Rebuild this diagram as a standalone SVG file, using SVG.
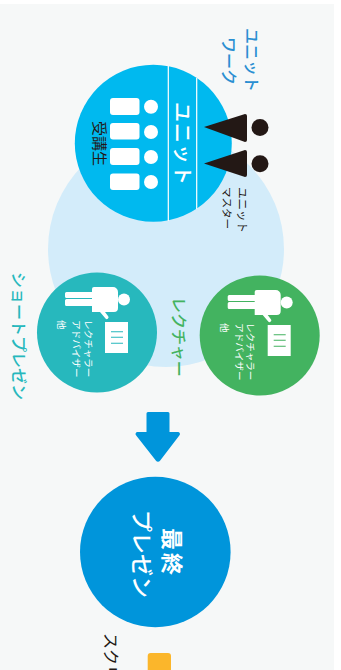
<svg xmlns="http://www.w3.org/2000/svg" width="341" height="670" viewBox="0 0 341 670">
<style>
text{font-family:"Noto Sans CJK JP","Noto Sans",sans-serif}
.w{fill:#fff}
.k{fill:#231815}
.h{font-size:16px;font-weight:500}
.s{font-size:9.6px;fill:#fff}
</style>
<rect width="341" height="670" fill="#fff"/>
<rect x="0" y="4" width="334" height="666" fill="#f6f8f8"/>
<g id="connectors">
<path d="M146.5 413.5a1.5 1.5 0 0 1 1.5-1.500h20a1.500 1.500 0 0 1 1.500 1.500V432h8.500a2 2 0 0 1 1.500 3.300L160 460.800a2.500 2.500 0 0 1-4 0L136 435.300a2 2 0 0 1 1.500-3.300H146.500z" fill="#0095db"/>
</g>
<g id="program-area"><circle cx="166" cy="249" r="118" fill="#d3ecfa"/></g>
<g id="unit-work">
<circle cx="153.300" cy="143.300" r="78.500" fill="#00b9ef"/>
<path d="M168.300 66v155M196.700 78v131" stroke="#fff" stroke-width="1.200" fill="none"/>
<text class="w" transform="translate(175,102) rotate(90)" font-size="20" font-weight="500" letter-spacing="1">ユニット</text>
<g class="w">
<circle cx="151" cy="106.700" r="7"/><circle cx="151" cy="132" r="7"/><circle cx="151" cy="157" r="7"/><circle cx="151" cy="182" r="7"/>
<rect x="110" y="98" width="29.500" height="17" rx="3"/><rect x="110" y="123" width="29.500" height="16.500" rx="3"/><rect x="110" y="148" width="29.500" height="17" rx="3"/><rect x="110" y="173.500" width="29.500" height="16.500" rx="3"/>
</g>
<text class="k" transform="translate(93.500,121) rotate(90)" font-size="15">受講生</text>
</g>
<g id="unit-master" class="k">
<path d="M204 127L245 114a2 2 0 0 1 2 2V140a2 2 0 0 1-2 2z"/>
<path d="M204 163.500L245 150a2 2 0 0 1 2 2V175a2 2 0 0 1-2 2z"/>
<circle cx="260" cy="127.500" r="8.500"/><circle cx="260" cy="163.800" r="8.500"/>
<text transform="translate(238,187) rotate(90)" font-size="11.500">ユニット</text>
<text transform="translate(223,187) rotate(90)" font-size="10.500">マスター</text>
</g>
<g id="unit-work-label" fill="#2a8fd2" class="h">
<text class="h" transform="translate(246,28) rotate(90)">ユニット</text>
<text class="h" transform="translate(223,37) rotate(90)">ワーク</text>
</g>
<g id="short-presentation">
<circle cx="97" cy="332.500" r="60" fill="#27b8bd"/>
<g class="w"><circle cx="124" cy="299.500" r="6"/>
<path d="M65 293.500a1.500 1.500 0 0 1 1.500-1.500H92V289a2 2 0 0 1 2-2H113a5 5 0 0 1 5 5V308a4 4 0 0 1-4 4H105L108 316a1.500 1.500 0 0 1-2.500 2.500L100 312H92V306H66.500a1.500 1.500 0 0 1-1.500-1.500V300.500a1.500 1.500 0 0 1 1.500-1.500H92V298H66.500a1.500 1.500 0 0 1-1.500-1.500z"/>
<rect x="105" y="322" width="23" height="31"/></g>
<path d="M111 331.700H123M111 337.300H123M111 343.300H123" stroke="#27b8bd" stroke-width="1.100"/>
<text class="s" transform="translate(84.500,320) rotate(90)">レクチャラー</text>
<text class="s" transform="translate(73,320) rotate(90)">アドバイザー</text>
<text class="s" transform="translate(58,320) rotate(90)">他</text>
</g>
<text fill="#27b8bd" class="h" transform="translate(13,272) rotate(90)" id="short-presentation-label">ショートプレゼン</text>
<g id="lecture">
<circle cx="259.700" cy="335.500" r="60" fill="#43b360"/>
<g class="w"><circle cx="286.700" cy="302.500" r="6"/>
<path transform="translate(162.700,3)" d="M65 293.500a1.500 1.500 0 0 1 1.500-1.500H92V289a2 2 0 0 1 2-2H113a5 5 0 0 1 5 5V308a4 4 0 0 1-4 4H105L108 316a1.500 1.500 0 0 1-2.500 2.500L100 312H92V306H66.500a1.500 1.500 0 0 1-1.500-1.500V300.500a1.500 1.500 0 0 1 1.500-1.500H92V298H66.500a1.500 1.500 0 0 1-1.500-1.500z"/>
<rect x="267.700" y="325" width="23" height="31"/></g>
<path d="M273.700 334.700H285.700M273.700 340.300H285.700M273.700 346.300H285.700" stroke="#43b360" stroke-width="1.100"/>
<text class="s" transform="translate(247.200,323) rotate(90)">レクチャラー</text>
<text class="s" transform="translate(235.700,323) rotate(90)">アドバイザー</text>
<text class="s" transform="translate(220.700,323) rotate(90)">他</text>
</g>
<text fill="#43b360" class="h" transform="translate(173,297) rotate(90)" id="lecture-label">レクチャー</text>
<g id="final-presentation">
<circle cx="155.300" cy="552" r="75.300" fill="#0095db"/>
<text class="w" transform="translate(164,528) rotate(90)" font-size="22" font-weight="700" letter-spacing="3">最終</text>
<text class="w" transform="translate(134,510) rotate(90)" font-size="22" font-weight="500">プレゼン</text>
</g>
<g id="screen">
<rect x="147.700" y="653" width="23.300" height="30" rx="3" fill="#fbb62b"/>
<text class="k" transform="translate(105,633) rotate(90)" font-size="16">スクリーン</text>
</g>
</svg>
